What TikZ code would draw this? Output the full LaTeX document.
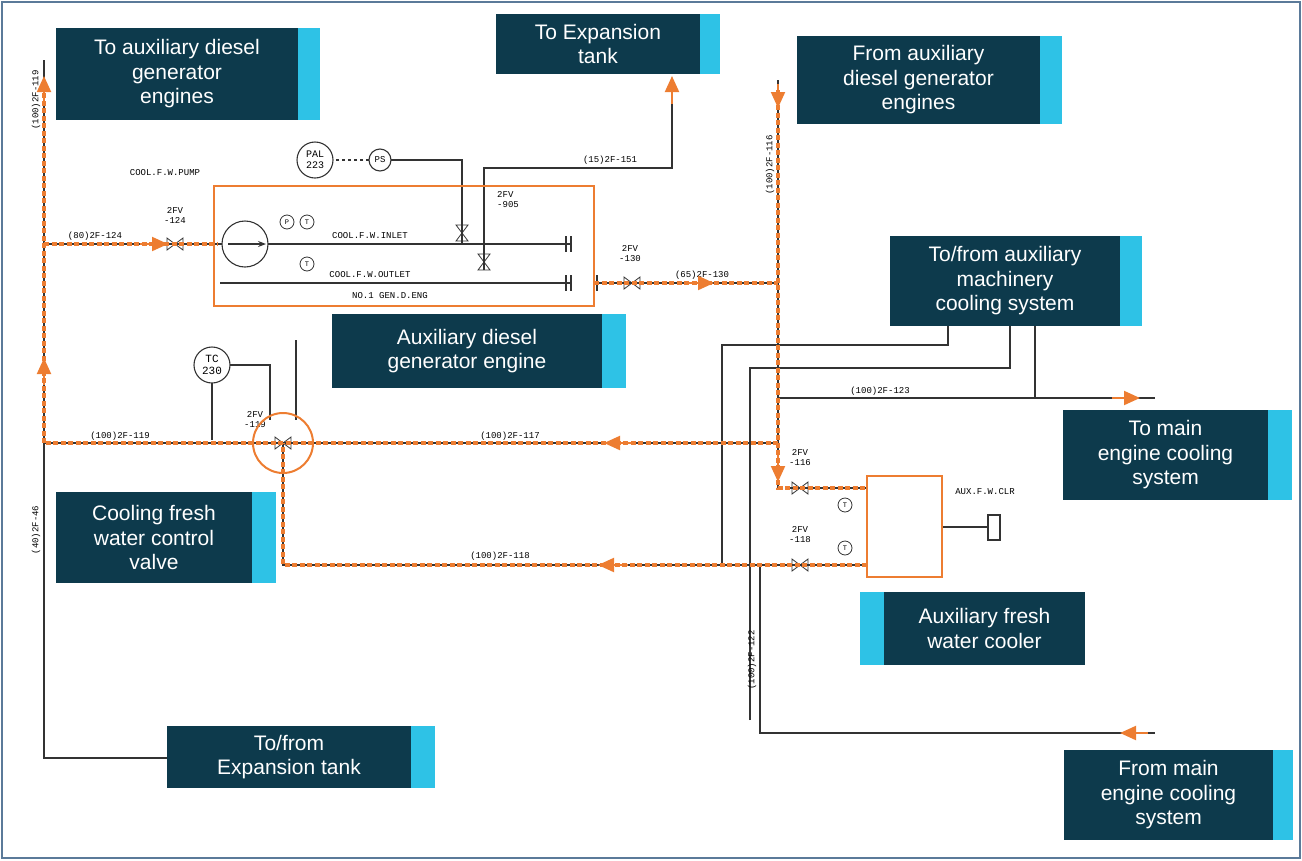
\documentclass[tikz,border=0pt]{standalone}
\usepackage{fontspec}
\setmainfont{Liberation Sans}
\setmonofont{Liberation Mono}
\usetikzlibrary{calc}
\usetikzlibrary{arrows.meta}
\definecolor{boxdark}{HTML}{0D3A4C}
\definecolor{boxcyan}{HTML}{2EC2E6}
\definecolor{flow}{HTML}{ED7D31}
\definecolor{frame}{HTML}{5B7A99}
\tikzset{
  pipe/.style={line width=1.1pt,black!80},
  flowline/.style={flow,line width=3.5pt,dash pattern=on 5pt off 2.5pt},
  flowtip/.style={-{Triangle[length=16pt,width=14pt]},flow,line width=2pt},
  tag/.style={font=\fontsize{9}{10}\selectfont\ttfamily,inner sep=1pt},
  boxtext/.style={text=white,font=\fontsize{21}{24.5}\selectfont,align=center}
}
% info box: x1,y1,x2,y2 of dark part, strip x1,x2, text
\newcommand\infobox[7]{%
  \fill[boxdark] (#1,#2) rectangle (#3,#4);
  \fill[boxcyan] (#5,#2) rectangle (#6,#4);
  \node[boxtext] at ({(#1+#3)/2},{(#2+#4)/2}) {#7};}
\begin{document}
\begin{tikzpicture}[x=1pt,y=-1pt]
  % Boundary
  \path[use as bounding box] (0,0) rectangle (1302,860);
  \draw[frame,line width=1.5pt] (2,2) rectangle (1300,858);
  % Pipes
  \draw[pipe] (44,60) -- (44,758) -- (167,758);
  \draw[pipe] (44,244) -- (222,244);
  \draw[pipe] (245,244) circle (23);
  \draw[pipe,-{Stealth}] (228,244) -- (266,244);
  \draw[pipe] (268,244) -- (570,244) (566,236) -- (566,252) (571,236) -- (571,252);
  \draw[pipe] (220,283) -- (570,283) (566,275) -- (566,291) (571,275) -- (571,291);
  \draw[pipe] (597,283) -- (778,283) (597,275) -- (597,291);
  \draw[pipe] (462,244) -- (462,160) -- (391,160);
  \draw[pipe,dashed] (369,160) -- (333,160);
  \draw[pipe] (484,270) -- (484,168) -- (672,168) -- (672,90);
  \draw[pipe] (778,80) -- (778,490);
  \draw[pipe] (44,443) -- (778,443);
  \draw[pipe] (283,443) -- (283,565) -- (867,565);
  \draw[pipe] (790,488) -- (867,488);
  \draw[pipe] (722,565) -- (722,345) -- (948,345) -- (948,326);
  \draw[pipe] (750,720) -- (750,368) -- (1010,368) -- (1010,326);
  \draw[pipe] (778,398) -- (1035,398);
  \draw[pipe] (1035,326) -- (1035,398) -- (1155,398);
  \draw[pipe] (760,565) -- (760,733) -- (1155,733);
  \draw[pipe] (942,527) -- (988,527) (988,515) rectangle (1000,540);
  \draw[pipe] (212,383) -- (212,440) (296,340) -- (296,420);
  \draw[pipe] (230,365) -- (270,365) -- (270,420);
  % Instruments
  \draw[pipe] (315,160) circle (18);
  \node[tag,font=\fontsize{10}{11}\selectfont\ttfamily,align=center] at (315,160) {PAL\\223};
  \draw[pipe] (380,160) circle (11);
  \node[tag] at (380,160) {PS};
  \draw[pipe] (212,365) circle (18);
  \node[tag,font=\fontsize{11}{12}\selectfont\ttfamily,align=center] at (212,365) {TC\\230};
  \foreach \x/\y/\t in {287/222/P,307/222/T,307/264/T,845/505/T,845/548/T}{
    \draw[pipe,line width=0.8pt] (\x,\y) circle (7);
    \node[tag,font=\fontsize{7}{8}\selectfont\ttfamily] at (\x,\y) {\t};}
  % Valves
  \foreach \x/\y in {175/244,632/283,800/488,800/565,283/443}{
    \draw[pipe,line width=0.8pt] (\x-8,\y-6) -- (\x+8,\y+6) -- (\x+8,\y-6) -- (\x-8,\y+6) -- cycle;}
  \foreach \x/\y in {462/233,484/262}{
    \draw[pipe,line width=0.8pt] (\x-6,\y-8) -- (\x+6,\y+8) -- (\x-6,\y+8) -- (\x+6,\y-8) -- cycle;}
  % Small tags
  \node[tag,rotate=90] at (36,100) {(100)2F-119};
  \node[tag,rotate=90] at (36,530) {(40)2F-46};
  \node[tag,rotate=90] at (770,165) {(100)2F-116};
  \node[tag,rotate=90] at (752,660) {(100)2F-122};
  \node[tag] at (95,236) {(80)2F-124};
  \node[tag,align=center] at (175,215) {2FV\\-124};
  \node[tag] at (165,173) {COOL.F.W.PUMP};
  \node[tag] at (370,236) {COOL.F.W.INLET};
  \node[tag] at (370,275) {COOL.F.W.OUTLET};
  \node[tag] at (390,296) {NO.1 GEN.D.ENG};
  \node[tag] at (610,160) {(15)2F-151};
  \node[tag,align=left] at (508,200) {2FV\\-905};
  \node[tag,align=center] at (630,254) {2FV\\-130};
  \node[tag] at (702,275) {(65)2F-130};
  \node[tag] at (880,391) {(100)2F-123};
  \node[tag] at (120,436) {(100)2F-119};
  \node[tag] at (510,436) {(100)2F-117};
  \node[tag,align=center] at (255,420) {2FV\\-119};
  \node[tag] at (500,556) {(100)2F-118};
  \node[tag,align=center] at (800,458) {2FV\\-116};
  \node[tag,align=center] at (800,535) {2FV\\-118};
  \node[tag] at (985,492) {AUX.F.W.CLR};
  % Highlights
  \draw[flow,line width=2pt] (214,186) rectangle (594,306);
  \draw[flow,line width=2pt] (867,476) rectangle (942,577);
  \draw[flow,line width=2pt] (283,443) circle (30);
  % Flow paths
  \draw[flowline] (44,443) -- (44,80) (44,244) -- (218,244);
  \draw[flowline] (594,283) -- (778,283);
  \draw[flowline] (778,90) -- (778,488) -- (867,488);
  \draw[flowline] (778,443) -- (44,443);
  \draw[flowline] (867,565) -- (283,565) -- (283,443);
  \draw[flowtip] (44,385) -- (44,358);
  \draw[flowtip] (44,105) -- (44,76);
  \draw[flowtip] (140,244) -- (168,244);
  \draw[flowtip] (686,283) -- (714,283);
  \draw[flowtip] (672,104) -- (672,76);
  \draw[flowtip] (778,84) -- (778,108);
  \draw[flowtip] (778,455) -- (778,482);
  \draw[flowtip] (634,443) -- (604,443);
  \draw[flowtip] (628,565) -- (598,565);
  \draw[flowtip] (1112,398) -- (1140,398);
  \draw[flowtip] (1148,733) -- (1120,733);
  % Labels
  \infobox{56}{28}{298}{120}{298}{320}{To auxiliary diesel\\generator\\engines}
  \infobox{496}{14}{700}{74}{700}{720}{To Expansion\\tank}
  \infobox{797}{36}{1040}{124}{1040}{1062}{From auxiliary\\diesel generator\\engines}
  \infobox{890}{236}{1120}{326}{1120}{1142}{To/from auxiliary\\machinery\\cooling system}
  \infobox{332}{314}{602}{388}{602}{626}{Auxiliary diesel\\generator engine}
  \infobox{1063}{410}{1268}{500}{1268}{1292}{To main\\engine cooling\\system}
  \infobox{56}{492}{252}{583}{252}{276}{Cooling fresh\\water control\\valve}
  \infobox{884}{592}{1085}{665}{860}{884}{Auxiliary fresh\\water cooler}
  \infobox{167}{726}{411}{788}{411}{435}{To/from\\Expansion tank}
  \infobox{1064}{750}{1273}{840}{1273}{1293}{From main\\engine cooling\\system}
\end{tikzpicture}
\end{document}
